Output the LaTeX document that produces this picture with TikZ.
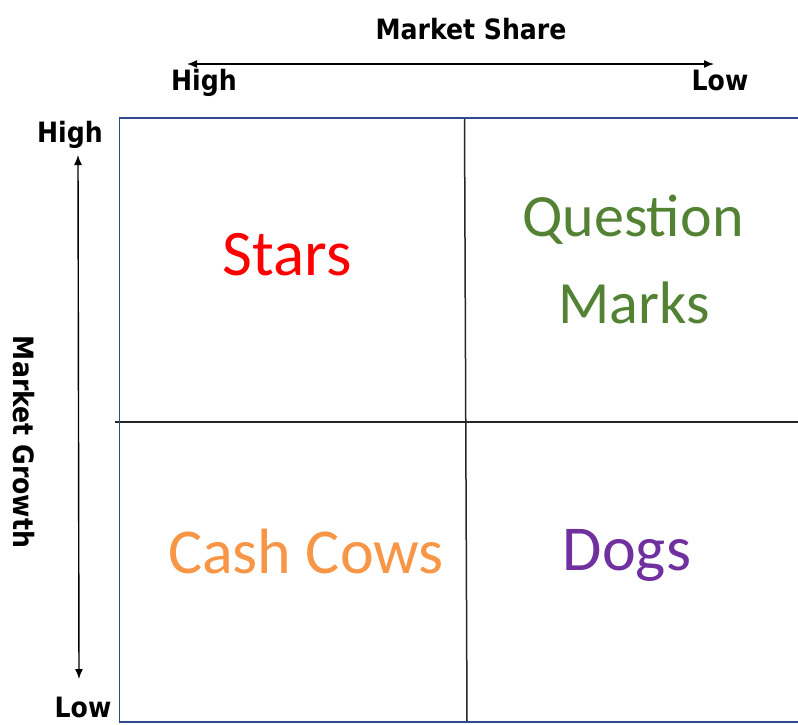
\documentclass[tikz,border=0pt]{standalone}
\usepackage{fontspec}
\setmainfont{Carlito}
\newfontfamily\axisfont{DejaVu Sans Condensed}
\usetikzlibrary{arrows.meta}
\definecolor{boxblue}{HTML}{2F4B8C}
\definecolor{starred}{HTML}{FF0000}
\definecolor{qmgreen}{HTML}{548235}
\definecolor{coworange}{HTML}{F79646}
\definecolor{dogpurple}{HTML}{7030A0}
\tikzset{
  axis/.style={font=\axisfont\bfseries\fontsize{28}{32}\selectfont, inner sep=0pt, anchor=base},
  quad/.style={font=\fontsize{64}{70}\selectfont, inner sep=0pt, anchor=base},
  grid/.style={line width=1.5pt, black!85},
  dir/.style={line width=1.4pt, {Latex[length=10pt,width=8pt]}-{Latex[length=10pt,width=8pt]}}
}
\begin{document}
\begin{tikzpicture}[x=1pt,y=-1pt]
\useasboundingbox (0,0) rectangle (798,724);
\clip (0,0) rectangle (798,724);
% axis labels
\node[axis] (ms) at (471,39) {Market Share};
\node[axis] (hh) at (204,90) {High};
\node[axis] (hl) at (720,90) {Low};
\node[axis] (vh) at (70,142) {High};
\node[axis, text depth=0pt] (vl) at (83,717) {Low};
\node[axis, rotate=-90] (mg) at (13,442) {Market Growth};
\coordinate (h1) at (187,64);
\coordinate (h2) at (714,64);
\coordinate (v1) at (78,155);
\coordinate (v2) at (79,679);
\draw[dir] (h1) -- (h2);
\draw[dir] (v1) -- (v2);

% matrix
\draw[grid] (115,422) -- (800,422);
\draw[grid] (464.5,118) -- (467,722);
\draw[boxblue, line width=1.5pt] (800,118) -- (119.5,118) -- (119.5,722) -- (800,722);

% quadrants
\node[quad, text=starred, font=\fontsize{65}{70}\selectfont] (1) at (287,275) {Stars};
\node[quad, text=qmgreen, font=\fontsize{60}{66}\selectfont] (2) at (633,236) {Question};
\node[quad, text=qmgreen, font=\fontsize{60}{66}\selectfont] (3) at (634,323) {Marks};
\node[quad, text=coworange] (4) at (306,573) {Cash Cows};
\node[quad, text=dogpurple] (5) at (627,570) {Dogs};
\end{tikzpicture}
\end{document}
